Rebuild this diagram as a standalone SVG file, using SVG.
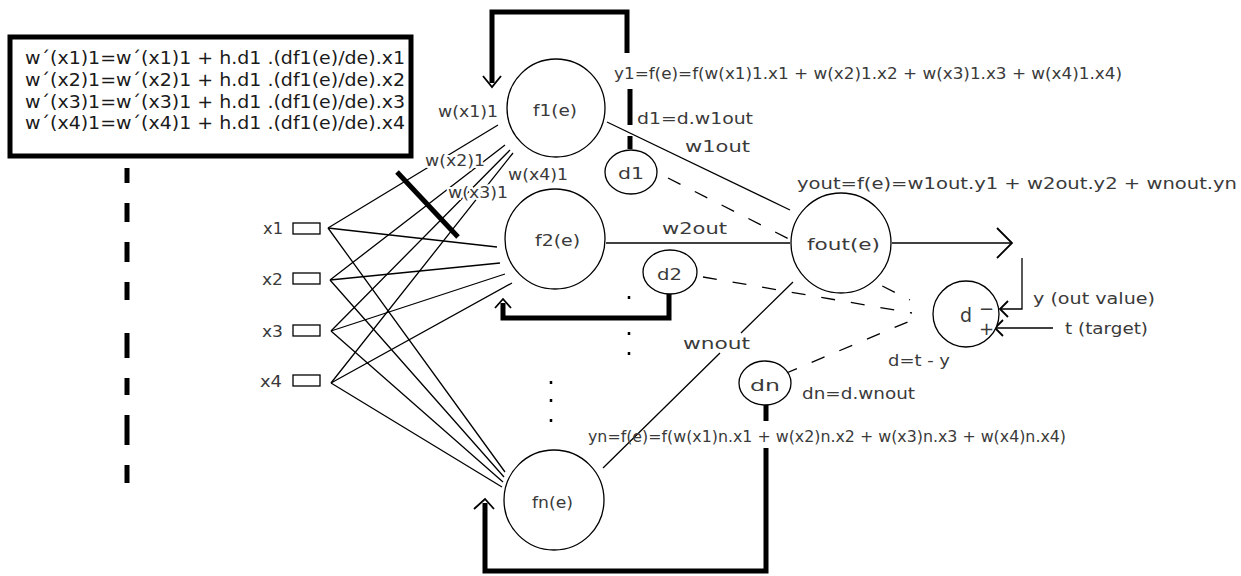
<svg xmlns="http://www.w3.org/2000/svg" width="1241" height="576" viewBox="0 0 1241 576">
<style>
.t{font-family:"DejaVu Sans","Liberation Sans",sans-serif;font-size:16px;fill:#3a3a3a}
.bx{font-family:"DejaVu Sans","Liberation Sans",sans-serif;font-size:18px;fill:#1a1a1a}
.ln{stroke:#000;stroke-width:1.3;fill:none}
.dl{stroke:#000;stroke-width:1.3;fill:none;stroke-dasharray:14 16}
.th{stroke:#000;stroke-width:5;fill:none}
.aw{stroke:#000;stroke-width:1.8;fill:none}
.nd{fill:#fff;stroke:#000;stroke-width:1.3}
.halo{paint-order:stroke;stroke:#fff;stroke-width:4px}
</style>
<rect width="1241" height="576" fill="#fff"/>

<g id="weight-update-box">
<rect x="10" y="37" width="401" height="119" fill="#fff" stroke="#000" stroke-width="5"/>
<text class="bx" x="25" y="64" textLength="380" lengthAdjust="spacingAndGlyphs">w´(x1)1=w´(x1)1 + h.d1 .(df1(e)/de).x1</text>
<text class="bx" x="25" y="86" textLength="380" lengthAdjust="spacingAndGlyphs">w´(x2)1=w´(x2)1 + h.d1 .(df1(e)/de).x2</text>
<text class="bx" x="25" y="108" textLength="380" lengthAdjust="spacingAndGlyphs">w´(x3)1=w´(x3)1 + h.d1 .(df1(e)/de).x3</text>
<text class="bx" x="25" y="129" textLength="380" lengthAdjust="spacingAndGlyphs">w´(x4)1=w´(x4)1 + h.d1 .(df1(e)/de).x4</text>
<path class="th" d="M127 168V183M127 203V222M127 242V262M127 282V300M127 333V358M127 378V395M127 415V445M127 465V483"/>
</g>

<g id="connectors">
<path class="ln" d="M328 228L498 125M330 280L505 145M331 331L510 150M331 383L513 153"/>
<path class="ln" d="M328 228L497 247M330 280L500 263M331 331L505 274M331 383L512 283"/>
<path class="ln" d="M328 228L505 472M330 280L504 477M331 331L503 482M331 383L502 487"/>
<path class="th" d="M397 172L458 237"/>
<path class="dl" d="M668 178L910 300"/>
<path class="dl" d="M703 277L912 313"/>
<path class="dl" d="M784 374L910 321"/>
<path class="ln" d="M607 122L790 210"/>
<path class="ln" d="M606 243L790 243"/>
<path class="ln" d="M793 282L741 333M720 353L603 468"/>
<path class="ln" d="M892 243H1012"/>
<path class="aw" d="M997 228L1012 243L997 258"/>
<path class="ln" d="M1022 258V309H1000"/>
<path class="aw" d="M1008 301L1000 309L1008 317"/>
<path class="ln" d="M1053 328H995"/>
<path class="aw" d="M1003 320L995 328L1003 336"/>
<path class="th" d="M492 83V12H627V53"/>
<path class="th" d="M630 89V125M630 136V149"/>
<path class="aw" d="M483 76L492 87L501 76"/>
<path class="th" d="M669 294V318H503V303"/>
<path class="aw" d="M495 308L503 299L511 308"/>
<path class="th" d="M766 405V421M766 448V571H485V503"/>
<path class="aw" d="M474 509L485 499L494 509"/>
<path stroke="#000" stroke-width="2.5" d="M629 296v3M629 332v3M629 352v3M551 381v3M551 399v3M551 419v3"/>
</g>

<g id="inputs">
<rect x="293" y="223" width="27" height="11" fill="#fff" stroke="#000" stroke-width="1.3"/>
<rect x="293" y="273" width="27" height="11" fill="#fff" stroke="#000" stroke-width="1.3"/>
<rect x="293" y="325" width="27" height="11" fill="#fff" stroke="#000" stroke-width="1.3"/>
<rect x="293" y="375" width="27" height="11" fill="#fff" stroke="#000" stroke-width="1.3"/>
<text class="t" x="263" y="234" textLength="20" lengthAdjust="spacingAndGlyphs">x1</text>
<text class="t" x="262" y="285" textLength="21" lengthAdjust="spacingAndGlyphs">x2</text>
<text class="t" x="262" y="337" textLength="21" lengthAdjust="spacingAndGlyphs">x3</text>
<text class="t" x="260" y="387" textLength="22" lengthAdjust="spacingAndGlyphs">x4</text>
</g>

<g id="node-f1">
<circle class="nd" cx="556" cy="108" r="49"/>
<text class="t" x="533" y="116" textLength="44" lengthAdjust="spacingAndGlyphs">f1(e)</text>
</g>
<g id="node-f2">
<circle class="nd" cx="555" cy="239" r="50"/>
<text class="t" x="535" y="246" textLength="45" lengthAdjust="spacingAndGlyphs">f2(e)</text>
</g>
<g id="node-fn">
<circle class="nd" cx="554" cy="500" r="50"/>
<text class="t" x="532" y="508" textLength="41" lengthAdjust="spacingAndGlyphs">fn(e)</text>
</g>
<g id="node-fout">
<circle class="nd" cx="841" cy="243" r="50"/>
<text class="t" x="807" y="250" textLength="73" lengthAdjust="spacingAndGlyphs">fout(e)</text>
</g>
<g id="node-d1">
<ellipse class="nd" cx="631" cy="172" rx="26" ry="22"/>
<text class="t" x="618" y="179" textLength="26" lengthAdjust="spacingAndGlyphs">d1</text>
</g>
<g id="node-d2">
<ellipse class="nd" cx="670" cy="272" rx="27" ry="22"/>
<text class="t" x="657" y="280" textLength="25" lengthAdjust="spacingAndGlyphs">d2</text>
</g>
<g id="node-dn">
<ellipse class="nd" cx="765" cy="383" rx="26" ry="22"/>
<text class="t" x="750" y="391" textLength="30" lengthAdjust="spacingAndGlyphs">dn</text>
</g>
<g id="node-d">
<circle class="nd" cx="966" cy="314" r="33"/>
<text class="t" x="960" y="322" style="font-size:19px">d</text>
<text class="t" x="979" y="315" style="font-size:18px">−</text>
<text class="t" x="979" y="335" style="font-size:18px">+</text>
</g>

<g id="labels">
<text class="t halo" x="438" y="117" textLength="60" lengthAdjust="spacingAndGlyphs">w(x1)1</text>
<text class="t halo" x="425" y="166" textLength="60" lengthAdjust="spacingAndGlyphs">w(x2)1</text>
<text class="t halo" x="448" y="198" textLength="60" lengthAdjust="spacingAndGlyphs">w(x3)1</text>
<text class="t halo" x="508" y="180" textLength="60" lengthAdjust="spacingAndGlyphs">w(x4)1</text>
<text class="t" x="614" y="79" textLength="508" lengthAdjust="spacingAndGlyphs">y1=f(e)=f(w(x1)1.x1 + w(x2)1.x2 + w(x3)1.x3 + w(x4)1.x4)</text>
<text class="t" x="637" y="124" textLength="116" lengthAdjust="spacingAndGlyphs">d1=d.w1out</text>
<text class="t" x="685" y="152" textLength="65" lengthAdjust="spacingAndGlyphs">w1out</text>
<text class="t" x="662" y="234" textLength="65" lengthAdjust="spacingAndGlyphs">w2out</text>
<text class="t" x="683" y="349" textLength="67" lengthAdjust="spacingAndGlyphs">wnout</text>
<text class="t" x="797" y="189" textLength="440" lengthAdjust="spacingAndGlyphs">yout=f(e)=w1out.y1 + w2out.y2 + wnout.yn</text>
<text class="t" x="1033" y="304" textLength="122" lengthAdjust="spacingAndGlyphs">y (out value)</text>
<text class="t" x="1065" y="334" textLength="83" lengthAdjust="spacingAndGlyphs">t (target)</text>
<text class="t" x="888" y="366" textLength="62" lengthAdjust="spacingAndGlyphs">d=t - y</text>
<text class="t" x="802" y="399" textLength="113" lengthAdjust="spacingAndGlyphs">dn=d.wnout</text>
<text class="t" x="588" y="442" textLength="478" lengthAdjust="spacingAndGlyphs">yn=f(e)=f(w(x1)n.x1 + w(x2)n.x2 + w(x3)n.x3 + w(x4)n.x4)</text>
</g>
</svg>
